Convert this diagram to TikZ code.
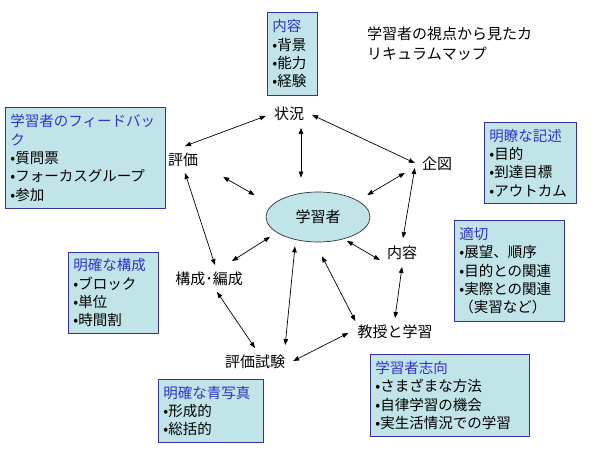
\documentclass[tikz,border=0pt]{standalone}
\usepackage{fontspec}
\setmainfont{Noto Sans CJK JP}
\usepackage{tikz}
\usetikzlibrary{arrows.meta,calc,shapes.geometric}
\usepackage{xcolor}
\definecolor{mpfill}{HTML}{C0E4E8}
\definecolor{mpline}{HTML}{333399}
\definecolor{mphead}{HTML}{3333CC}

\begin{document}
\begin{tikzpicture}[x=1pt,y=-1pt,
    t/.style={font=\fontsize{15}{18}\selectfont,inner sep=3pt,text height=12.5pt,text depth=1pt},
    bx/.style={draw=mpline,fill=mpfill,line width=0.8pt,anchor=north west,align=left,
    inner xsep=5pt,inner ysep=0pt,font=\fontsize{14.5}{18.3}\selectfont},
    a/.style={{Triangle[length=6pt,width=4.5pt]}-{Triangle[length=6pt,width=4.5pt]},line width=0.7pt}]
    \useasboundingbox (0,0) rectangle (596,454);
    % boxes
    \node[bx,text width=40pt,minimum height=83pt] (ctx) at (267,12)
      {\textcolor{mphead}{内容}\\•背景\\•能力\\•経験};
    \node[bx,text width=150pt,minimum height=101pt] (fb) at (5,107)
      {\textcolor{mphead}{学習者のフィードバッ\\ク}\\•質問票\\•フォーカスグループ\\•参加};
    \node[bx,text width=82pt,minimum height=81pt] (clear) at (484,122)
      {\textcolor{mphead}{明瞭な記述}\\•目的\\•到達目標\\•アウトカム};
    \node[bx,text width=100pt,minimum height=101pt] (fit) at (454,220)
      {\textcolor{mphead}{適切}\\•展望、順序\\•目的との関連\\•実際との関連\\（実習など）};
    \node[bx,text width=80pt,minimum height=81pt] (struct) at (68,252)
      {\textcolor{mphead}{明確な構成}\\•ブロック\\•単位\\•時間割};
    \node[bx,text width=95pt,minimum height=63pt] (blue) at (158,379)
      {\textcolor{mphead}{明確な青写真}\\•形成的\\•総括的};
    \node[bx,text width=149pt,minimum height=82pt] (orient) at (370,354)
      {\textcolor{mphead}{学習者志向}\\•さまざまな方法\\•自律学習の機会\\•実生活情況での学習};
    \node[anchor=north west,align=left,inner sep=0pt,font=\fontsize{15}{19.5}\selectfont]
      (title) at (367,27) {学習者の視点から見たカ\\リキュラムマップ};
    % map
    \node[ellipse,draw=black!80,fill=mpfill,line width=0.7pt,minimum width=104pt,
      minimum height=50pt,inner sep=0pt,font=\fontsize{15}{18}\selectfont] (learner) at (318,217) {学習者};
    \node[t] (jokyo) at (289,114) {状況};
    \node[t] (hyoka) at (183,160) {評価};
    \node[t] (kito) at (437,164) {企図};
    \node[t] (naiyo) at (402,253) {内容};
    \node[t] (kosei) at (209,279) {構成･編成};
    \node[t] (shiken) at (255,362) {評価試験};
    \node[t] (kyoju) at (395,332) {教授と学習};
    \draw[a] ($(jokyo.west)+(-5,2)$) -- ($(hyoka.north)+(2,-4)$);
    \draw[a] ($(jokyo.east)+(5,1)$) -- ($(kito.west)+(-4,-1)$);
    \draw[a] ($(jokyo.south)+(12,4)$) -- ($(learner.north)+(-17,-14)$);
    \draw[a] ($(hyoka.south east)+(22,7)$) -- ($(learner.west)+(-11,-22)$);
    \draw[a] ($(kito.south west)+(-14,-1)$) -- ($(learner.east)+(-3,-22)$);
    \draw[a] ($(kito.west)+(-4,4)$) -- ($(naiyo.north)+(1,-5)$);
    \draw[a] ($(hyoka.south)+(2,3)$) -- ($(kosei.north)+(6,-4)$);
    \draw[a] ($(kosei.north)+(23,-8)$) -- ($(learner.south west)+(-11,2)$);
    \draw[a] ($(kosei.south)+(8,3)$) -- ($(shiken.north)+(0,-4)$);
    \draw[a] ($(learner.south)+(-23,4)$) -- ($(shiken.north east)+(-3,-7)$);
    \draw[a] ($(shiken.east)+(5,-1)$) -- ($(kyoju.west)+(-6,1)$);
    \draw[a] ($(learner.south)+(4,14)$) -- ($(kyoju.north west)+(1,-1)$);
    \draw[a] ($(learner.south east)+(-8,6)$) -- ($(naiyo.west)+(-4,7)$);
    \draw[a] ($(naiyo.south)+(0,4)$) -- ($(kyoju.north)+(0,-4)$);
\end{tikzpicture}
\end{document}
